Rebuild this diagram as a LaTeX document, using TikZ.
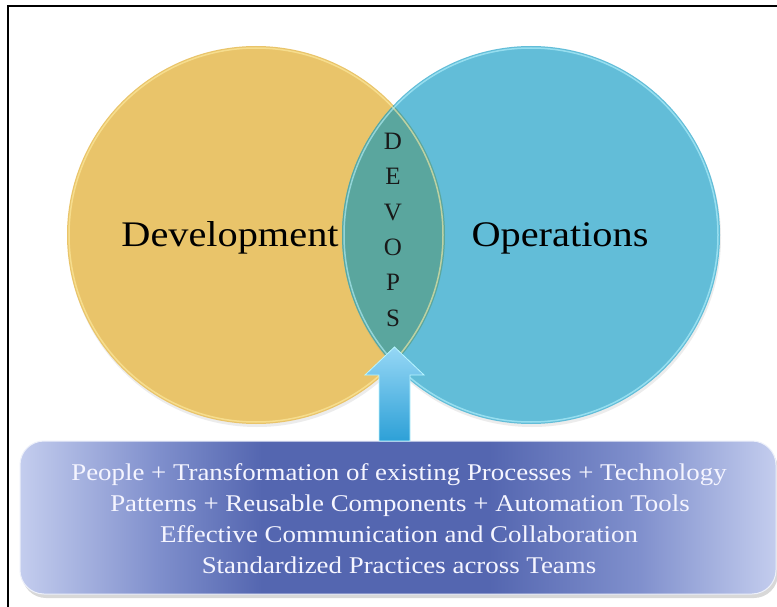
\documentclass[tikz,border=0pt]{standalone}
\usepackage{fontspec}
\setmainfont{Liberation Serif}
\newfontfamily\capfont{Liberation Serif}[FakeStretch=1.12]
\usetikzlibrary{shadows}
\definecolor{devyellow}{RGB}{233,196,106}
\definecolor{devrim}{RGB}{255,238,165}
\definecolor{opsblue}{RGB}{98,189,216}
\definecolor{opsrim}{RGB}{185,245,255}
\definecolor{lensteal}{RGB}{90,166,158}
\definecolor{boxlight}{RGB}{196,205,238}
\definecolor{boxmid}{RGB}{128,144,205}
\definecolor{boxdark}{RGB}{84,102,176}
\definecolor{arrowtop}{RGB}{150,215,245}
\definecolor{arrowbot}{RGB}{45,160,215}
\pgfdeclarehorizontalshading{boxshade}{100bp}{color(0bp)=(boxlight); color(25bp)=(boxlight); color(34bp)=(boxmid); color(41bp)=(boxdark); color(56bp)=(boxdark); color(66bp)=(boxmid); color(75bp)=(boxlight); color(100bp)=(boxlight)}
\tikzset{
  venn/.style={circle, minimum size=378pt, inner sep=0pt},
  bigword/.style={font=\capfont\fontsize{36}{40}\selectfont, anchor=base, text=black},
  letter/.style={font=\fontsize{25}{28}\selectfont, anchor=base, text=black!90},
  boxline/.style={font=\capfont\fontsize{24}{28}\selectfont, anchor=base, text=white!96!blue, inner sep=0pt},
}
\begin{document}
\begin{tikzpicture}[x=1pt, y=-1pt]
\useasboundingbox (0,0) rectangle (777,607);
\fill[white] (0,0) rectangle (777,607);
% frame
\draw[line width=2.4pt, black] (8,607) -- (8,6) -- (777,6);
% circles
\node[venn, fill=devyellow, drop shadow={opacity=0.15, shadow xshift=1pt, shadow yshift=-3pt}] (dev) at (256,235) {};
\node[venn, fill=opsblue, drop shadow={opacity=0.15, shadow xshift=1pt, shadow yshift=-3pt}] (ops) at (531,235) {};
\begin{scope}
  \clip (256,235) circle (189);
  \fill[lensteal] (531,235) circle (189);
\end{scope}
% rims
\draw[devrim, line width=1.5pt, opacity=0.6] (256,235) circle (187);
\draw[opsrim, line width=1.5pt, opacity=0.6] (531,235) circle (187);
% labels
\node[bigword] (devlabel) at (230,247) {Development};
\node[bigword] (opslabel) at (560,247) {Operations};
\node[letter] (l1) at (393,150) {D};
\node[letter] (l2) at (393,185) {E};
\node[letter] (l3) at (393,220) {V};
\node[letter] (l4) at (393,255) {O};
\node[letter] (l5) at (393,290) {P};
\node[letter] (l6) at (393,326) {S};
% box
\node[rounded corners=24pt, minimum width=756pt, minimum height=153pt, shading=boxshade, draw=white!70!boxlight, line width=1pt, drop shadow={opacity=0.3, shadow xshift=2pt, shadow yshift=-4pt}] (box) at (398,517.5) {};
% arrow
\coordinate (tip) at (394.5,347);
\shade[top color=arrowtop, bottom color=arrowbot, draw=opsrim, line width=0.8pt]
  (379,441) -- (379,375) -- (365,375) -- (tip) -- (424,375) -- (410,375) -- (410,441) -- cycle;
% box text
\node[boxline] (t1) at (399,480) {People + Transformation of existing Processes + Technology};
\node[boxline] (t2) at (400,511) {Patterns + Reusable Components + Automation Tools};
\node[boxline] (t3) at (399,542) {Effective Communication and Collaboration};
\node[boxline] (t4) at (399,573) {Standardized Practices across Teams};
\end{tikzpicture}
\end{document}
